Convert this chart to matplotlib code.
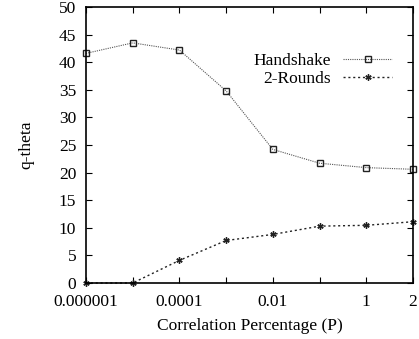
import matplotlib
matplotlib.use("Agg")
import matplotlib.pyplot as plt

plt.rcParams['font.family'] = ['Liberation Serif', 'DejaVu Serif']

x_labels = ["0.000001", "", "0.0001", "", "0.01", "", "1", "2"]
x_index = list(range(8))
handshake = [41.6, 43.5, 42.2, 34.8, 24.2, 21.7, 20.9, 20.6]
two_rounds = [0.0, 0.0, 4.1, 7.7, 8.8, 10.3, 10.45, 11.1]

fig = plt.figure(figsize=(4.19, 3.39), dpi=100)
ax = fig.add_axes([86/419, 1 - 283/339, (413-86)/419, (283-7)/339])

ax.plot(x_index, handshake, linestyle=(0, (1, 1)), color='#555555', linewidth=0.8,
        marker='s', markersize=4, markerfacecolor='none', markeredgecolor='#222222',
        markeredgewidth=1.0, label='Handshake', clip_on=False)
ax.plot(x_index, two_rounds, linestyle=(0, (1.5, 2)), color='#222222', linewidth=1.0,
        marker=(6, 2, 0), markersize=4.5, markeredgecolor='#222222', markeredgewidth=1.0,
        label='2-Rounds', clip_on=False)

ax.set_xlim(0, 7)
ax.set_ylim(0, 50)
ax.set_xticks(x_index)
ax.set_xticklabels(x_labels)
ax.set_yticks(range(0, 51, 5))
ax.tick_params(direction='in', top=True, right=True, labelsize=12.5, length=4, width=0.8)
ax.tick_params(axis='y', pad=7)
ax.tick_params(axis='x', pad=8)
for s in ax.spines.values():
    s.set_linewidth(1.2)

ax.set_xlabel('Correlation Percentage (P)', fontsize=12.5, labelpad=6)
ax.set_ylabel('q-theta', fontsize=12.5, labelpad=18)

leg = ax.legend(loc='upper right', bbox_to_anchor=(392/419, 1 - 53/339),
                bbox_transform=fig.transFigure, frameon=False, fontsize=12.5,
                markerfirst=False, handlelength=2.8, handletextpad=0.72, labelspacing=0.1,
                borderaxespad=0, borderpad=0)
for t in leg.get_texts():
    t.set_ha('right')

fig.savefig('out.png', dpi=100)
